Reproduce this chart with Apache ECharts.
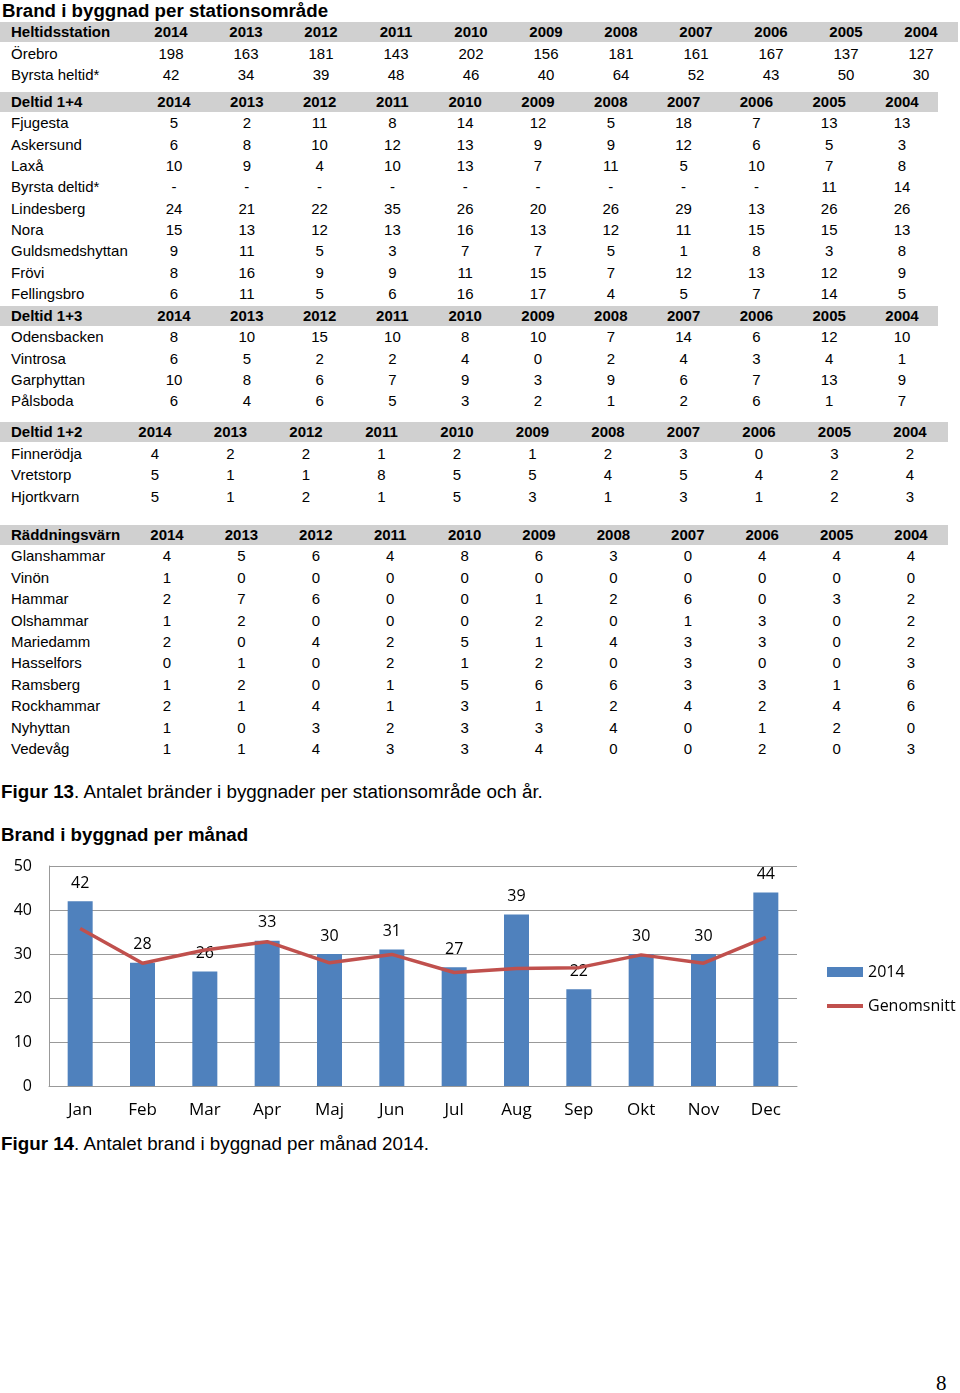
<!DOCTYPE html>
<html><head><meta charset="utf-8">
<script src="https://cdn.jsdelivr.net/npm/echarts@6/dist/echarts.min.js"></script>
<style>
body{margin:0;width:960px;height:1393px;position:relative;background:#fff;font-family:"Liberation Sans",Arial,sans-serif;color:#000;overflow:hidden}
.t{position:absolute;white-space:nowrap;line-height:22px;height:22px;font-size:15px}
.c{text-align:center;width:70px}
.b{font-weight:bold}
.band{position:absolute;background:#d0d0d0;height:20px;left:0}
</style></head><body>
<div id="page"></div>
<div id="chart" style="position:absolute;left:0;top:850px;width:960px;height:280px"></div>
<script>
// ---------- DATA ----------
const years = ['2014','2013','2012','2011','2010','2009','2008','2007','2006','2005','2004'];

const heltidHeader = 'Heltidsstation';
const heltidNames = ['Örebro','Byrsta heltid*'];
const heltidValues = [
  [198,163,181,143,202,156,181,161,167,137,127],
  [42,34,39,48,46,40,64,52,43,50,30]
];

const deltid14Header = 'Deltid 1+4';
const deltid14Names = ['Fjugesta','Askersund','Laxå','Byrsta deltid*','Lindesberg','Nora','Guldsmedshyttan','Frövi','Fellingsbro'];
const deltid14Values = [
  [5,2,11,8,14,12,5,18,7,13,13],
  [6,8,10,12,13,9,9,12,6,5,3],
  [10,9,4,10,13,7,11,5,10,7,8],
  ['-','-','-','-','-','-','-','-','-',11,14],
  [24,21,22,35,26,20,26,29,13,26,26],
  [15,13,12,13,16,13,12,11,15,15,13],
  [9,11,5,3,7,7,5,1,8,3,8],
  [8,16,9,9,11,15,7,12,13,12,9],
  [6,11,5,6,16,17,4,5,7,14,5]
];

const deltid13Header = 'Deltid 1+3';
const deltid13Names = ['Odensbacken','Vintrosa','Garphyttan','Pålsboda'];
const deltid13Values = [
  [8,10,15,10,8,10,7,14,6,12,10],
  [6,5,2,2,4,0,2,4,3,4,1],
  [10,8,6,7,9,3,9,6,7,13,9],
  [6,4,6,5,3,2,1,2,6,1,7]
];

const deltid12Header = 'Deltid 1+2';
const deltid12Names = ['Finnerödja','Vretstorp','Hjortkvarn'];
const deltid12Values = [
  [4,2,2,1,2,1,2,3,0,3,2],
  [5,1,1,8,5,5,4,5,4,2,4],
  [5,1,2,1,5,3,1,3,1,2,3]
];

const rvHeader = 'Räddningsvärn';
const rvNames = ['Glanshammar','Vinön','Hammar','Olshammar','Mariedamm','Hasselfors','Ramsberg','Rockhammar','Nyhyttan','Vedevåg'];
const rvValues = [
  [4,5,6,4,8,6,3,0,4,4,4],
  [1,0,0,0,0,0,0,0,0,0,0],
  [2,7,6,0,0,1,2,6,0,3,2],
  [1,2,0,0,0,2,0,1,3,0,2],
  [2,0,4,2,5,1,4,3,3,0,2],
  [0,1,0,2,1,2,0,3,0,0,3],
  [1,2,0,1,5,6,6,3,3,1,6],
  [2,1,4,1,3,1,2,4,2,4,6],
  [1,0,3,2,3,3,4,0,1,2,0],
  [1,1,4,3,3,4,0,0,2,0,3]
];

const months = ['Jan','Feb','Mar','Apr','Maj','Jun','Jul','Aug','Sep','Okt','Nov','Dec'];
const fires2014 = [42,28,26,33,30,31,27,39,22,30,30,44];
const average = [35.8,27.9,30.9,32.8,28,29.9,25.8,26.7,26.9,29.8,27.9,33.8];
const yTicks = [0,10,20,30,40,50];

// ---------- LAYOUT (text tables) ----------
const page = document.getElementById('page');
function txt(s, x, y, cls, extra){
  const d = document.createElement('div');
  d.className = 't ' + (cls||'');
  d.textContent = s;
  d.style.left = x + 'px';
  d.style.top = (y - 11) + 'px';
  if (extra) Object.assign(d.style, extra);
  page.appendChild(d);
  return d;
}
function table(header, names, values, o){
  const band = document.createElement('div');
  band.className = 'band';
  band.style.top = (o.y - 10) + 'px';
  band.style.width = o.right + 'px';
  page.appendChild(band);
  txt(header, 11, o.y, 'b');
  years.forEach((yr, j) => txt(yr, o.x0 + j*o.dx - 35, o.y, 'b c'));
  names.forEach((n, i) => {
    const y = o.y + (i+1)*o.step;
    txt(n, 11, y, '');
    values[i].forEach((v, j) => txt(String(v), o.x0 + j*o.dx - 35, y, 'c'));
  });
}
txt('Brand i byggnad per stationsområde', 2, 11, 'b', {fontSize:'18.7px'});
table(heltidHeader, heltidNames, heltidValues, {y:32, step:21.5, x0:171, dx:75, right:958});
table(deltid14Header, deltid14Names, deltid14Values, {y:102, step:21.35, x0:174, dx:72.8, right:938});
table(deltid13Header, deltid13Names, deltid13Values, {y:316, step:21.35, x0:174, dx:72.8, right:938});
table(deltid12Header, deltid12Names, deltid12Values, {y:432, step:21.5, x0:155, dx:75.5, right:948});
table(rvHeader, rvNames, rvValues, {y:535, step:21.4, x0:167, dx:74.4, right:948});

const cap13 = txt('', 1, 792, '', {fontSize:'18.8px'});
cap13.innerHTML = '<b>Figur 13</b>. Antalet bränder i byggnader per stationsområde och år.';
txt('Brand i byggnad per månad', 1, 835, 'b', {fontSize:'18.7px'});
const cap14 = txt('', 1, 1144, '', {fontSize:'18.8px'});
cap14.innerHTML = '<b>Figur 14</b>. Antalet brand i byggnad per månad 2014.';
txt('8', 936, 1383, '', {fontSize:'21px', fontFamily:'"Liberation Serif","DejaVu Serif",serif'});

// ---------- CHART ----------
const chart = echarts.init(document.getElementById('chart'), null, {renderer:'canvas'});
const font = '"Open Sans","Noto Sans",sans-serif';
chart.setOption({
  animation:false,
  textStyle:{fontFamily:font},
  grid:{left:49, right:163, top:16, bottom:44},
  legend:{
    orient:'vertical', left:827, top:114, padding:0, itemWidth:36, itemHeight:10, itemGap:18,
    symbolKeepAspect:true,
    textStyle:{fontSize:16, color:'#000', fontFamily:font},
    data:[{name:'2014', icon:'rect'}, {name:'Genomsnitt', icon:'path://M0,0 L36,0 L36,4 L0,4 Z'}]
  },
  xAxis:{
    type:'category', data:months,
    axisLine:{lineStyle:{color:'#999', width:1}},
    axisTick:{show:false},
    axisLabel:{color:'#000', fontSize:17, margin:16, fontFamily:font}
  },
  yAxis:{
    type:'value', min:yTicks[0], max:yTicks[yTicks.length-1], interval:10,
    axisLine:{show:true, lineStyle:{color:'#999', width:1}},
    axisTick:{show:false},
    axisLabel:{color:'#000', fontSize:16, margin:17, fontFamily:font},
    splitLine:{lineStyle:{color:'#999', width:1}}
  },
  series:[
    {name:'2014', type:'bar', data:fires2014, barWidth:25,
     itemStyle:{color:'#4f81bd'},
     label:{show:true, position:'top', distance:10, color:'#000', fontSize:16, fontFamily:font}},
    {name:'Genomsnitt', type:'line', data:average, symbol:'none', z:5,
     lineStyle:{color:'#c0504d', width:3.5}, itemStyle:{color:'#c0504d'}}
  ]
});
</script>
</body></html>
